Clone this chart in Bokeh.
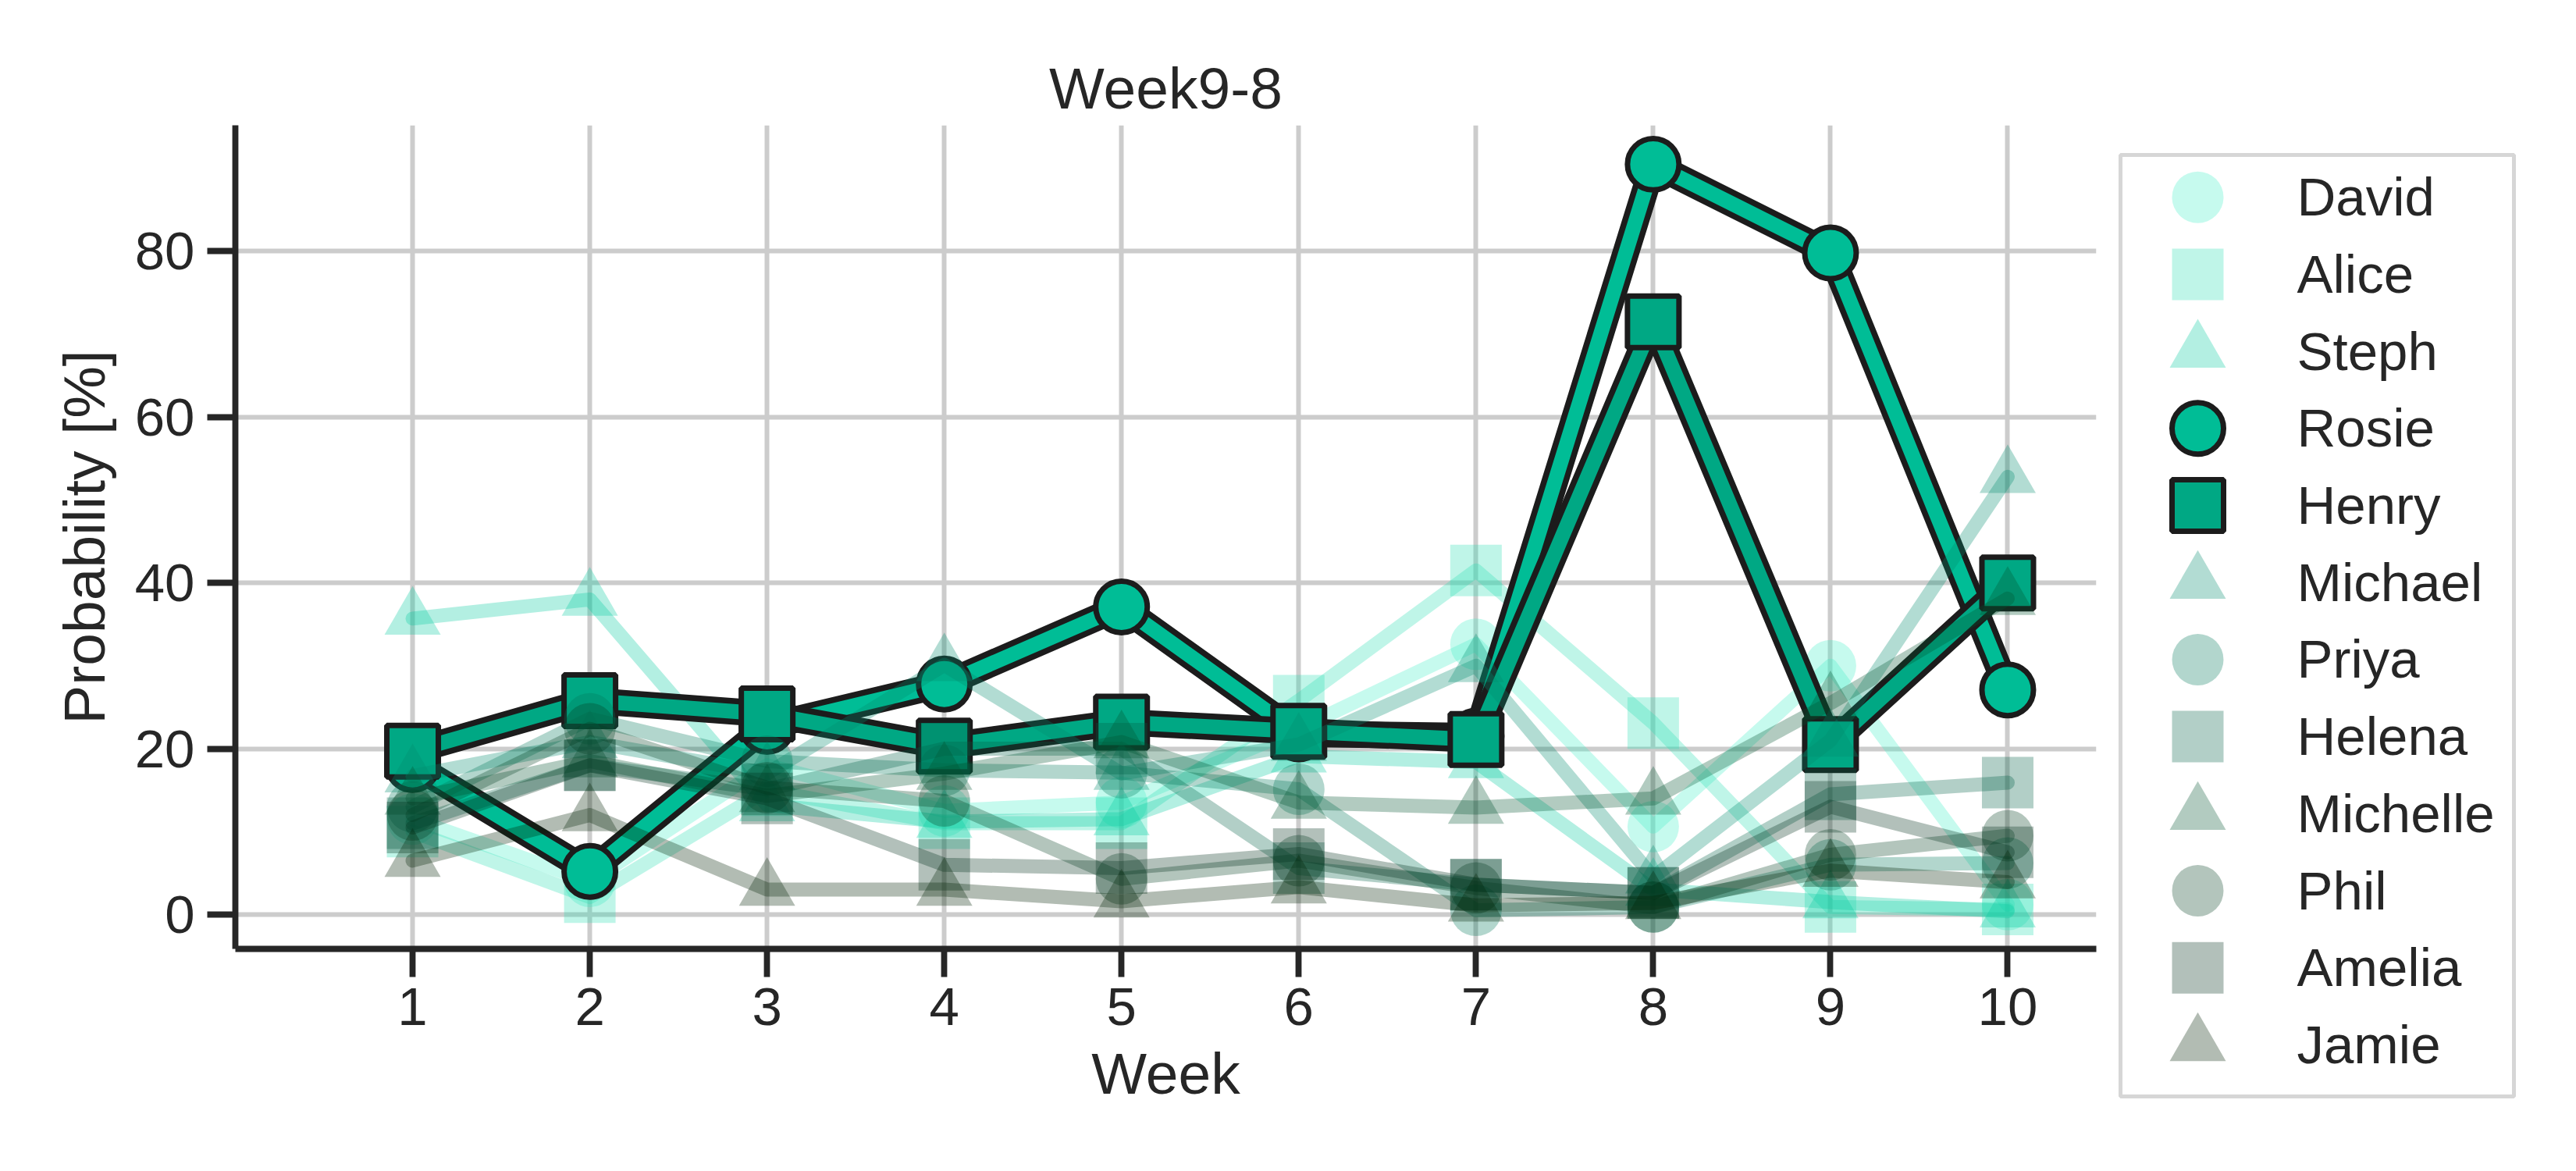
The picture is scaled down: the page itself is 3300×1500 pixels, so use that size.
from bokeh.plotting import figure
from bokeh.layouts import row, column
from bokeh.models import FixedTicker, Range1d
from bokeh.embed import file_html
from bokeh.resources import INLINE
from bokeh.core.properties import value

weeks = [1, 2, 3, 4, 5, 6, 7, 8, 9, 10]

david    = [11.5, 4.0, 18.0, 12.5, 13.5, 22.4, 32.6, 10.6, 30.0, 1.2]
alice    = [10.0, 2.1, 15.0, 11.0, 11.0, 25.8, 41.5, 23.1, 0.9, 0.6]
steph    = [35.7, 38.0, 13.2, 11.2, 11.5, 19.1, 18.4, 3.0, 1.5, 0.4]
rosie    = [18.1, 5.2, 22.7, 27.8, 37.1, 21.8, 21.5, 90.5, 79.8, 27.1]
henry    = [19.7, 25.8, 24.2, 20.3, 23.2, 22.1, 21.1, 71.5, 20.5, 40.0]
michael  = [16.7, 20.8, 17.0, 30.1, 17.0, 20.5, 30.0, 4.5, 21.0, 52.8]
priya    = [13.0, 23.6, 18.5, 17.4, 17.1, 15.1, 0.5, 0.9, 6.0, 6.2]
helena   = [11.0, 18.0, 15.1, 20.0, 20.0, 5.6, 3.6, 2.6, 14.5, 15.9]
michelle = [14.0, 18.5, 14.3, 17.0, 20.8, 13.5, 12.9, 14.0, 25.5, 38.1]
phil     = [12.0, 22.4, 15.3, 13.7, 4.3, 6.5, 3.2, 0.9, 7.2, 9.5]
amelia   = [10.5, 18.0, 14.0, 6.0, 5.6, 7.3, 3.6, 2.6, 13.0, 7.5]
jamie    = [6.5, 12.0, 3.0, 3.0, 1.6, 3.3, 1.1, 1.4, 5.3, 3.9]

names = ["David", "Alice", "Steph", "Rosie", "Henry", "Michael", "Priya",
         "Helena", "Michelle", "Phil", "Amelia", "Jamie"]
series = [david, alice, steph, rosie, henry, michael, priya,
          helena, michelle, phil, amelia, jamie]
markers = ["circle", "square", "triangle"] * 4
colors = ["#41eec6", "#2adeb2", "#02ca9e", "#00bd96", "#00a884", "#008a6c",
          "#007658", "#005f44", "#00522d", "#023e20", "#002d19", "#002002"]
highlight = ["Rosie", "Henry"]

y_ticks = [0, 20, 40, 60, 80]
title_text = "Week9-8"
FONT = "Liberation Sans"
TXT = "#262626"
EDGE = "#1c1c1c"

p = figure(frame_width=2384, frame_height=1055,
           x_range=Range1d(0, 10.5), y_range=Range1d(-4.15, 95.2),
           min_border_left=301, min_border_right=15,
           min_border_top=160, min_border_bottom=281,
           output_backend="svg", toolbar_location=None)
p.outline_line_color = None
p.background_fill_color = "white"

p.title.text = title_text
p.title.align = "center"
p.title.text_font = FONT
p.title.text_font_size = "75px"
p.title.text_font_style = "normal"
p.title.text_color = TXT
p.title.standoff = 11

for name, ys, mk, col in zip(names, series, markers, colors):
    if name in highlight:
        p.line(weeks, ys, line_color=EDGE, line_width=34,
               line_join="round", line_cap="round")
        p.line(weeks, ys, line_color=col, line_width=19,
               line_join="round", line_cap="round")
        p.scatter(weeks, ys, marker=mk, size=66, fill_color=col,
                  line_color=EDGE, line_width=7)
    else:
        p.line(weeks, ys, line_color=col, line_width=18, line_alpha=0.3,
               line_join="round", line_cap="round")
        sz = 72 if mk == "triangle" else 66
        p.scatter(weeks, ys, marker=mk, size=sz, fill_color=col,
                  fill_alpha=0.3, line_color=None)

p.xaxis.ticker = FixedTicker(ticks=weeks)
p.yaxis.ticker = FixedTicker(ticks=y_ticks)
p.xaxis.axis_label = "Week"
p.yaxis.axis_label = "Probability [%]"
for ax in (p.xaxis[0], p.yaxis[0]):
    ax.axis_line_width = 7.8
    ax.axis_line_color = TXT
    ax.major_tick_line_width = 7.8
    ax.major_tick_line_color = TXT
    ax.major_tick_out = 36
    ax.major_tick_in = 0
    ax.minor_tick_line_color = None
    ax.major_label_text_font = FONT
    ax.major_label_text_font_size = "69px"
    ax.major_label_text_color = TXT
    ax.axis_label_text_font = FONT
    ax.axis_label_text_font_size = "75px"
    ax.axis_label_text_font_style = "normal"
    ax.axis_label_text_color = TXT
p.xaxis.major_label_standoff = 14
p.xaxis.axis_label_standoff = 17
p.yaxis.major_label_standoff = 16
p.yaxis.axis_label_standoff = 20

p.grid.grid_line_color = "#cccccc"
p.grid.grid_line_width = 6

# legend panel
LW, LH = 504, 1206
lg = figure(width=600, height=1496, x_range=Range1d(0, LW), y_range=Range1d(0, LH),
            min_border_left=16, min_border_right=80, min_border_top=198,
            min_border_bottom=92, output_backend="svg", toolbar_location=None)
lg.axis.visible = False
lg.grid.visible = False
lg.outline_line_color = "#d6d6d6"
lg.outline_line_width = 5

row_pitch = 98.7
first = 54.2
for i, (name, mk, col) in enumerate(zip(names, markers, colors)):
    yy = LH - first - i * row_pitch
    if name in highlight:
        lg.scatter([99], [yy], marker=mk, size=66, fill_color=col,
                   line_color=EDGE, line_width=7)
    else:
        sz = 72 if mk == "triangle" else 66
        lg.scatter([99], [yy], marker=mk, size=sz, fill_color=col,
                   fill_alpha=0.3, line_color=None)
    lg.text([226], [yy], text=[name], text_font=value(FONT),
            text_font_size="69px", text_baseline="middle", text_color=TXT)

layout = row(p, column(lg))
open("out.html", "w").write(file_html(layout, INLINE))
